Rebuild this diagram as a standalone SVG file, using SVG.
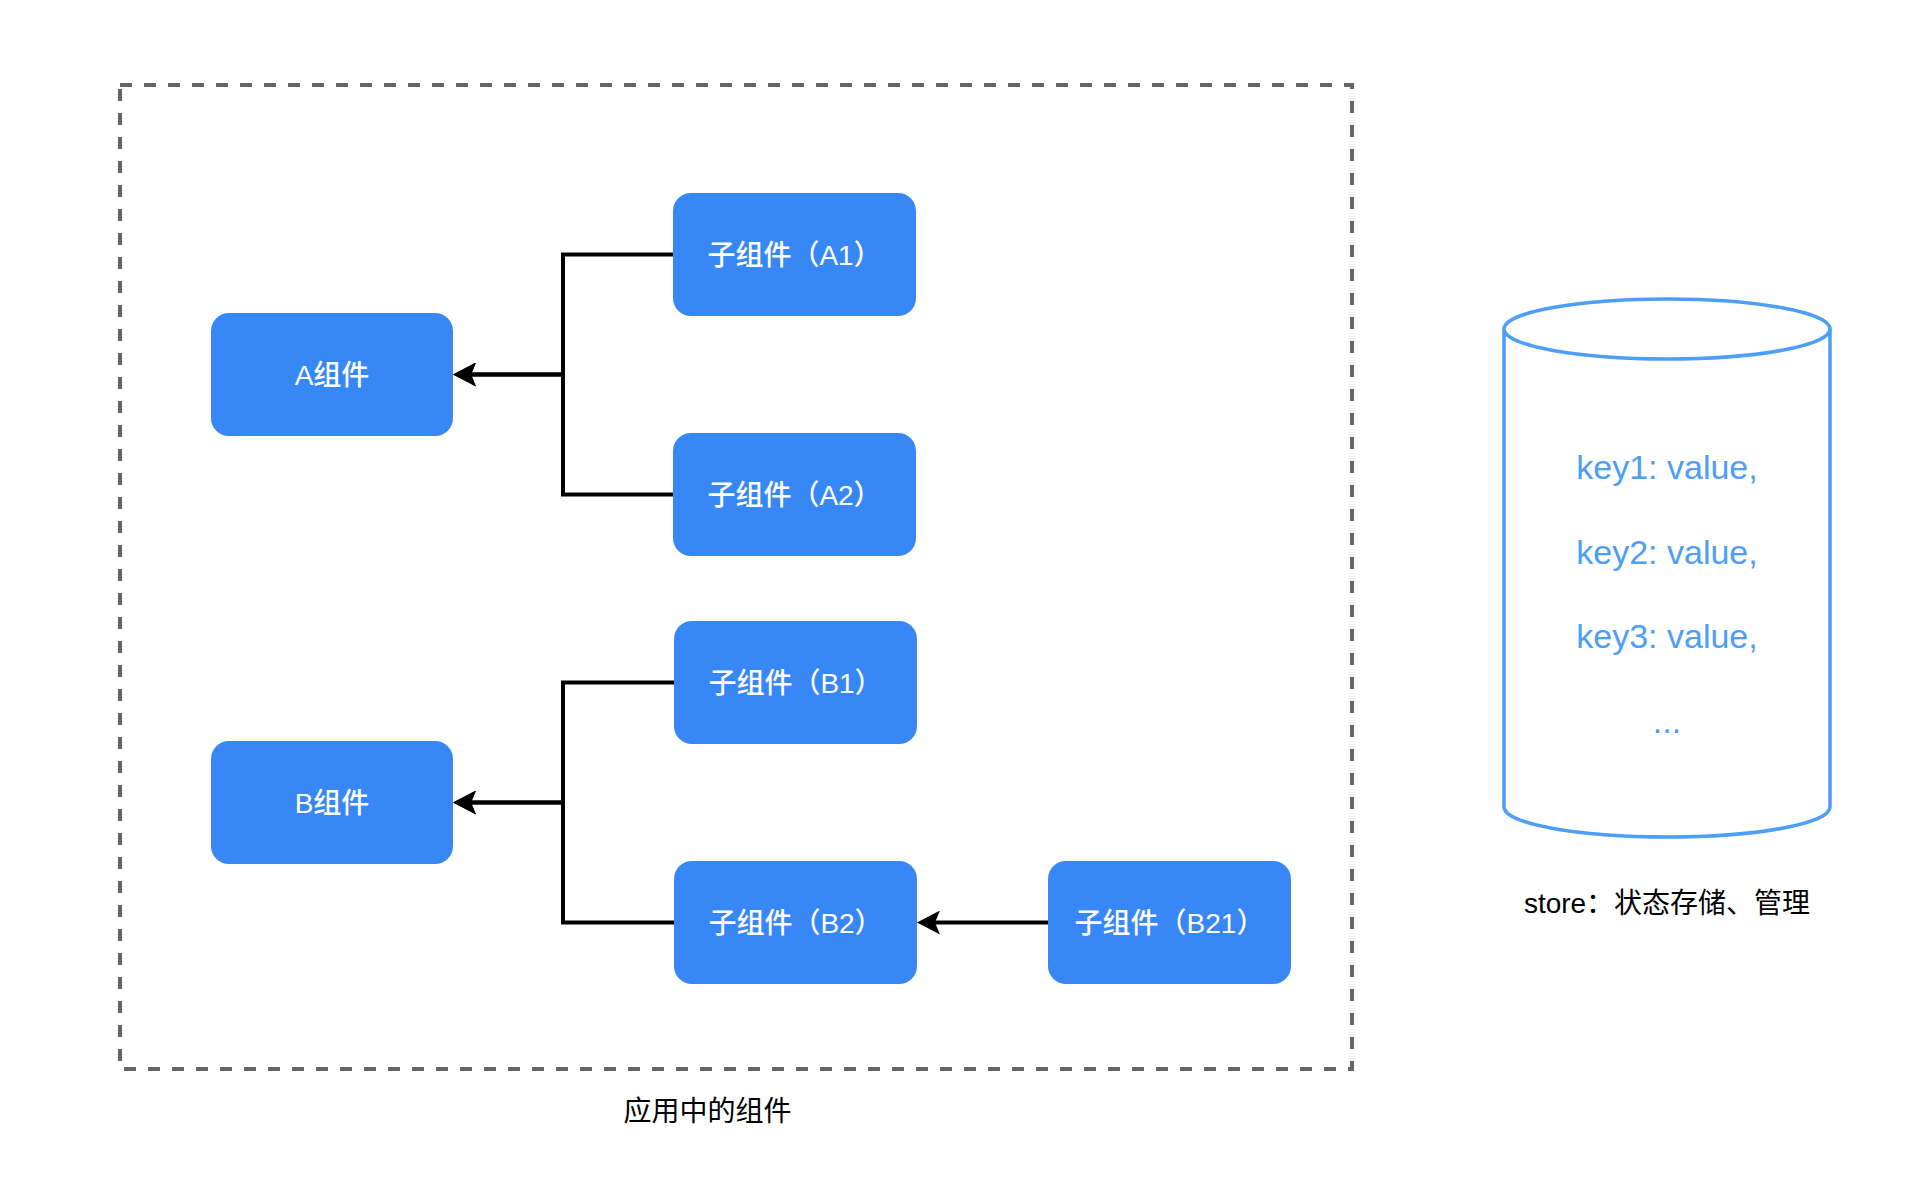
<svg xmlns="http://www.w3.org/2000/svg" width="1920" height="1200" viewBox="0 0 1920 1200">
<style>
.box{fill:#3887F6;}
.bt{fill:#ffffff;font-family:"Liberation Sans","Noto Sans CJK SC",sans-serif;font-size:28px;font-weight:500;text-anchor:middle;}
.conn{fill:none;stroke:#000000;stroke-width:4;}
.lbl{fill:#000000;font-family:"Liberation Sans","Noto Sans CJK SC",sans-serif;font-size:28px;text-anchor:middle;}
.kv{fill:#4D9EF7;font-family:"Liberation Sans","Noto Sans CJK SC",sans-serif;font-size:34px;text-anchor:middle;}
</style>
<defs>
<marker id="arr" viewBox="0 0 23 24" markerWidth="23" markerHeight="24" refX="19" refY="12" orient="auto" markerUnits="userSpaceOnUse">
<path d="M23,12 L0,0 L5,12 L0,24 Z" fill="#000000"/>
</marker>
</defs>
<rect width="1920" height="1200" fill="#ffffff"/>
<g id="container">
<rect x="120" y="85" width="1232" height="984" fill="none" stroke="#666666" stroke-width="4" stroke-dasharray="12 12"/>
<text class="lbl" x="707.5" y="1121">应用中的组件</text>
</g>
<g id="connectors">
<path class="conn" d="M673,254.5 H563 V374.5 H457" marker-end="url(#arr)"/>
<path class="conn" d="M673,494.5 H563 V374.5 H457" marker-end="url(#arr)"/>
<path class="conn" d="M674,682.5 H563 V802.5 H457" marker-end="url(#arr)"/>
<path class="conn" d="M674,922.5 H563 V802.5 H457" marker-end="url(#arr)"/>
<path class="conn" d="M1048,922.5 H921" marker-end="url(#arr)"/>
</g>
<g id="nodeA">
<rect class="box" x="211" y="313" width="242" height="123" rx="18"/>
<text class="bt" x="332" y="384.5">A组件</text>
</g>
<g id="nodeA1">
<rect class="box" x="673" y="193" width="243" height="123" rx="18"/>
<text class="bt" x="794.5" y="264.5">子组件（A1）</text>
</g>
<g id="nodeA2">
<rect class="box" x="673" y="433" width="243" height="123" rx="18"/>
<text class="bt" x="794.5" y="504.5">子组件（A2）</text>
</g>
<g id="nodeB">
<rect class="box" x="211" y="741" width="242" height="123" rx="18"/>
<text class="bt" x="332" y="812.5">B组件</text>
</g>
<g id="nodeB1">
<rect class="box" x="674" y="621" width="243" height="123" rx="18"/>
<text class="bt" x="795.5" y="692.5">子组件（B1）</text>
</g>
<g id="nodeB2">
<rect class="box" x="674" y="861" width="243" height="123" rx="18"/>
<text class="bt" x="795.5" y="932.5">子组件（B2）</text>
</g>
<g id="nodeB21">
<rect class="box" x="1048" y="861" width="243" height="123" rx="18"/>
<text class="bt" x="1169.5" y="932.5">子组件（B21）</text>
</g>
<g id="store">
<path d="M1504,329 V807 A163,30 0 0 0 1830,807 V329" fill="#ffffff" stroke="#4D9EF7" stroke-width="3.5"/>
<ellipse cx="1667" cy="329" rx="163" ry="30" fill="#ffffff" stroke="#4D9EF7" stroke-width="3.5"/>
<text class="kv" x="1667" y="479">key1: value,</text>
<text class="kv" x="1667" y="563.5">key2: value,</text>
<text class="kv" x="1667" y="648">key3: value,</text>
<text class="kv" x="1667" y="733">...</text>
<text class="lbl" x="1667" y="913">store：状态存储、管理</text>
</g>
</svg>
